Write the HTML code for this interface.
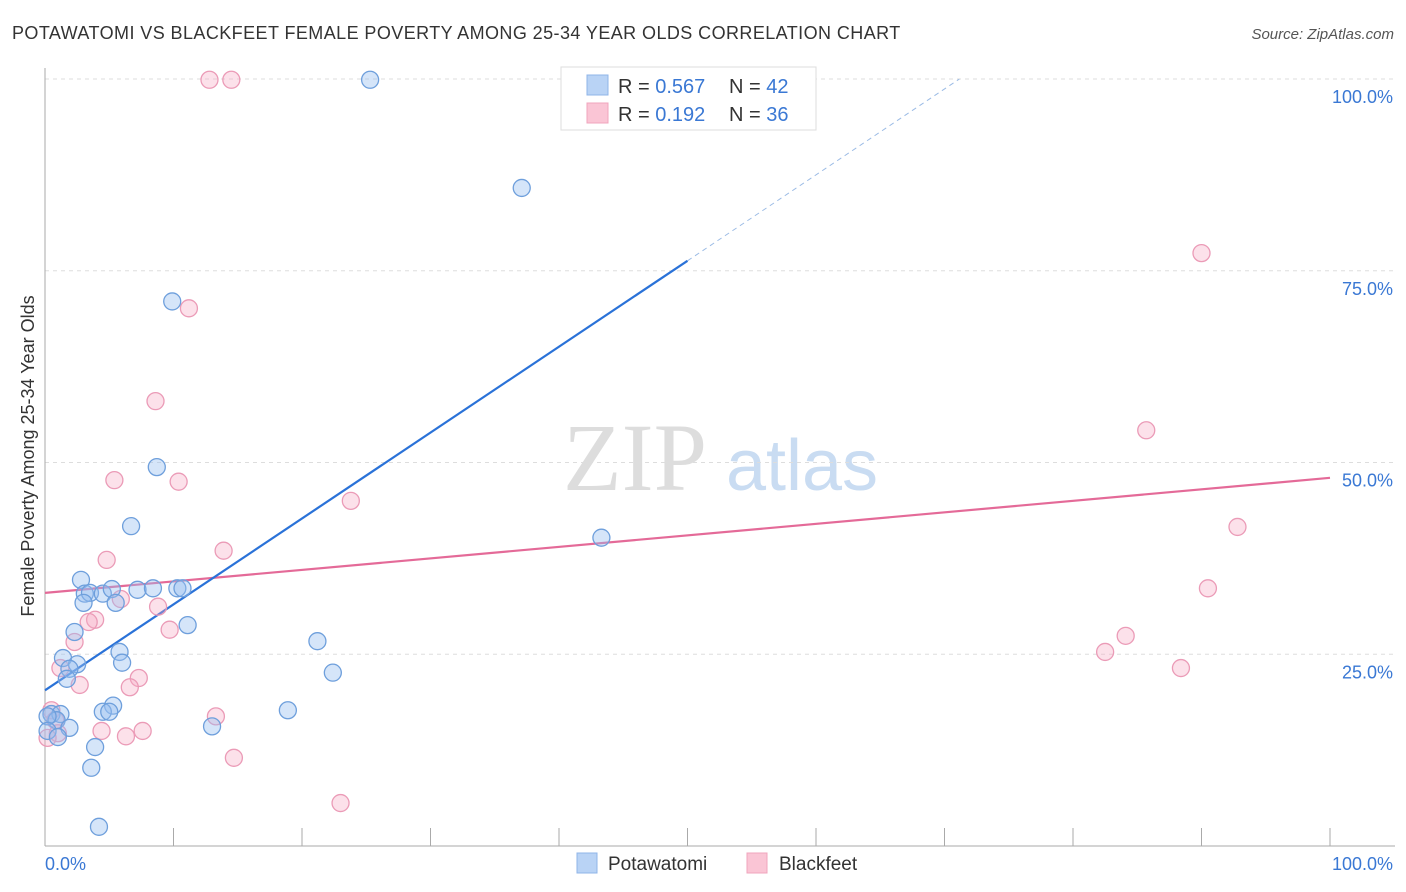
<!DOCTYPE html>
<html><head><meta charset="utf-8">
<style>
body{margin:0;background:#fff;font-family:"Liberation Sans",sans-serif;}
svg{display:block}
</style></head>
<body>
<svg id="chart" width="1406" height="892" viewBox="0 0 1406 892" xmlns="http://www.w3.org/2000/svg">
<text x="12" y="39" font-size="18" fill="#333" letter-spacing="0.42" font-family="Liberation Sans, sans-serif">POTAWATOMI VS BLACKFEET FEMALE POVERTY AMONG 25-34 YEAR OLDS CORRELATION CHART</text>
<text x="1394" y="39" font-size="15" fill="#555" font-style="italic" text-anchor="end">Source: ZipAtlas.com</text>
<g>
<text x="635" y="490" font-size="96" fill="#ddd" text-anchor="middle" font-family="Liberation Serif, serif">ZIP</text>
<text x="802" y="490" font-size="72" fill="#c9dcf2" text-anchor="middle">atlas</text>
</g>
<g id="grid"></g>
<g id="axes"></g>
<g id="lines"></g>
<g id="points"></g>
<text transform="translate(34,456) rotate(-90)" font-size="18" fill="#333" text-anchor="middle">Female Poverty Among 25-34 Year Olds</text>
<g>
<rect x="561" y="67" width="255" height="63" fill="#fff" stroke="#ddd"/>
<rect x="587" y="75" width="21" height="20" fill="#b9d3f5" stroke="#8fb5e8"/>
<rect x="587" y="103" width="21" height="20" fill="#fac5d5" stroke="#f0a5bd"/>
<text x="618" y="93" font-size="20" fill="#333">R = <tspan fill="#3a78d4">0.567</tspan></text>
<text x="729" y="93" font-size="20" fill="#333">N = <tspan fill="#3a78d4">42</tspan></text>
<text x="618" y="121" font-size="20" fill="#333">R =  <tspan fill="#3a78d4">0.192</tspan></text>
<text x="729" y="121" font-size="20" fill="#333">N = <tspan fill="#3a78d4">36</tspan></text>
</g>
<g>
<rect x="577" y="853" width="20" height="20" fill="#b9d3f5" stroke="#8fb5e8"/>
<text x="608" y="870" font-size="19" fill="#333">Potawatomi</text>
<rect x="747" y="853" width="20" height="20" fill="#fac5d5" stroke="#f0a5bd"/>
<text x="779" y="870" font-size="19" fill="#333">Blackfeet</text>
</g>
</svg>
<script>
const yTicks=[25,50,75,100];
const yTickLabels=["25.0%","50.0%","75.0%","100.0%"];
const xTickVals=[0,10,20,30,40,50,60,70,80,90,100];
const potX=[25.3,37.1,9.9,8.7,6.7,43.3,2.8,3.1,3.5,4.5,5.2,3.0,5.5,7.2,8.4,10.3,10.7,11.1,2.3,1.4,2.5,1.9,1.7,5.8,6.0,21.2,22.4,18.9,13.0,5.3,4.5,5.0,0.5,1.2,0.9,0.2,1.9,0.2,1.0,3.9,3.6,4.2];
const potY=[99.9,85.8,71.0,49.4,41.7,40.2,34.7,32.9,33.0,32.9,33.5,31.7,31.7,33.4,33.6,33.6,33.6,28.8,27.9,24.5,23.7,23.1,21.8,25.3,23.9,26.7,22.6,17.7,15.6,18.3,17.5,17.5,17.2,17.2,16.4,16.9,15.4,15.0,14.2,12.9,10.2,2.5];
const blkX=[12.8,14.5,90.0,11.2,8.6,85.7,5.4,10.4,23.8,92.8,13.9,4.8,90.5,5.9,8.8,3.9,3.4,9.7,2.3,84.1,82.5,1.2,88.4,7.3,2.7,6.6,13.3,0.5,0.8,4.4,6.3,7.6,1.0,14.7,0.2,23.0];
const blkY=[99.9,99.9,77.3,70.1,58.0,54.2,47.7,47.5,45.0,41.6,38.5,37.3,33.6,32.2,31.2,29.5,29.2,28.2,26.6,27.4,25.3,23.2,23.2,21.9,21.0,20.7,16.9,17.7,16.4,15.0,14.3,15.0,14.7,11.5,14.1,5.6];
const potTrend=[20.3,1.12]; // intercept, slope
const blkTrend=[33.0,0.15];

const NS="http://www.w3.org/2000/svg";
const X0=45,X1=1330,Y0=846,Y100=79;
const sx=v=>X0+(X1-X0)*v/100;
const sy=v=>Y0-(Y0-Y100)*v/100;
function mk(tag,attrs,parent){const e=document.createElementNS(NS,tag);for(const k in attrs)e.setAttribute(k,attrs[k]);parent.appendChild(e);return e;}
const grid=document.getElementById('grid'),axes=document.getElementById('axes'),lines=document.getElementById('lines'),pts=document.getElementById('points');
yTicks.forEach((t,i)=>{
  const l=mk('line',{x1:45,x2:1395,y1:sy(t),y2:sy(t),stroke:'#ddd','stroke-dasharray':'4,4'},grid);
  
  
  const tx=mk('text',{x:1393,y:sy(t)+24,'font-size':18,fill:'#3a78d4','text-anchor':'end'},axes);
  tx.textContent=yTickLabels[i];
  
  
});
mk('line',{x1:45,x2:45,y1:68,y2:846,stroke:'#aaa'},axes);
mk('line',{x1:45,x2:1395,y1:846,y2:846,stroke:'#aaa'},axes);
xTickVals.forEach(v=>{
  const t=mk('line',{x1:sx(v),x2:sx(v),y1:828,y2:846,stroke:'#aaa'},axes);
  
  
});
const xl0=mk('text',{x:45,y:870,'font-size':18,fill:'#3a78d4'},axes);xl0.textContent='0.0%';


const xl1=mk('text',{x:1393,y:870,'font-size':18,fill:'#3a78d4','text-anchor':'end'},axes);xl1.textContent='100.0%';


function drawPts(xs,ys,fill,stroke,name){
  xs.forEach((x,i)=>{
    const c=mk('circle',{cx:sx(x),cy:sy(ys[i]),r:8.5,fill:fill,stroke:stroke,'stroke-width':1.3},pts);
    
    
  });
}
drawPts(blkX,blkY,'rgba(245,170,195,0.35)','#eb9bb7','blackfeet-point');
drawPts(potX,potY,'rgba(150,190,240,0.4)','#6e9fdc','potawatomi-point');
const f=(tr,x)=>tr[0]+tr[1]*x;
const pl=mk('line',{x1:sx(0),y1:sy(f(blkTrend,0)),x2:sx(100),y2:sy(f(blkTrend,100)),stroke:'#e46a98','stroke-width':2.2},lines);


const xEnd=(100-potTrend[0])/potTrend[1];
const bl=mk('line',{x1:sx(0),y1:sy(f(potTrend,0)),x2:sx(50),y2:sy(f(potTrend,50)),stroke:'#2a72d8','stroke-width':2.2},lines);


const bd=mk('line',{x1:sx(50),y1:sy(f(potTrend,50)),x2:sx(xEnd),y2:sy(100),stroke:'#9bbbe5','stroke-width':1,'stroke-dasharray':'5,4'},lines);


</script>
</body></html>
